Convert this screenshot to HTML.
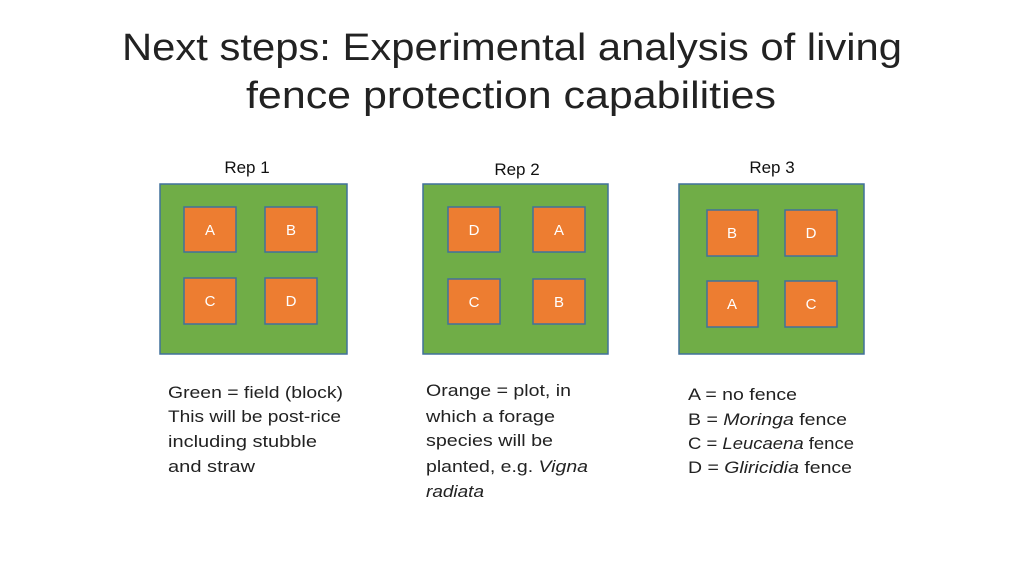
<!DOCTYPE html>
<html><head><style>
html,body{margin:0;padding:0;background:#fff;}
svg{display:block}
text{font-family:"Liberation Sans",sans-serif;}
</style></head><body>
<svg width="1024" height="576" viewBox="0 0 1024 576" xmlns="http://www.w3.org/2000/svg">
<text x="512" y="60" font-size="38" text-anchor="middle" fill="#222" textLength="780" lengthAdjust="spacingAndGlyphs">Next steps: Experimental analysis of living</text>
<text x="511" y="108" font-size="38" text-anchor="middle" fill="#222" textLength="530" lengthAdjust="spacingAndGlyphs">fence protection capabilities</text>

<g font-size="17" fill="#111" text-anchor="middle">
<text x="247" y="173">Rep 1</text>
<text x="517" y="175">Rep 2</text>
<text x="772" y="173">Rep 3</text>
</g>

<g fill="#70ad47" stroke="#41719c" stroke-width="1.5">
<rect x="160" y="184" width="187" height="170"/>
<rect x="423" y="184" width="185" height="170"/>
<rect x="679" y="184" width="185" height="170"/>
</g>
<g fill="#ed7d31" stroke="#41719c" stroke-width="1.5">
<rect x="184" y="207" width="52" height="45"/>
<rect x="265" y="207" width="52" height="45"/>
<rect x="184" y="278" width="52" height="46"/>
<rect x="265" y="278" width="52" height="46"/>
<rect x="448" y="207" width="52" height="45"/>
<rect x="533" y="207" width="52" height="45"/>
<rect x="448" y="279" width="52" height="45"/>
<rect x="533" y="279" width="52" height="45"/>
<rect x="707" y="210" width="51" height="46"/>
<rect x="785" y="210" width="52" height="46"/>
<rect x="707" y="281" width="51" height="46"/>
<rect x="785" y="281" width="52" height="46"/>
</g>
<g font-size="15" fill="#fff" text-anchor="middle">
<text x="210" y="235">A</text><text x="291" y="235">B</text>
<text x="210" y="306">C</text><text x="291" y="306">D</text>
<text x="474" y="235">D</text><text x="559" y="235">A</text>
<text x="474" y="307">C</text><text x="559" y="307">B</text>
<text x="732" y="238">B</text><text x="811" y="238">D</text>
<text x="732" y="309">A</text><text x="811" y="309">C</text>
</g>

<g font-size="17" fill="#222" lengthAdjust="spacingAndGlyphs">
<text x="168" y="398" textLength="175" lengthAdjust="spacingAndGlyphs">Green = field (block)</text>
<text x="168" y="422" textLength="173" lengthAdjust="spacingAndGlyphs">This will be post-rice</text>
<text x="168" y="447" textLength="149" lengthAdjust="spacingAndGlyphs">including stubble</text>
<text x="168" y="472" textLength="87" lengthAdjust="spacingAndGlyphs">and straw</text>
<text x="426" y="396" textLength="145" lengthAdjust="spacingAndGlyphs">Orange = plot, in</text>
<text x="426" y="422" textLength="129" lengthAdjust="spacingAndGlyphs">which a forage</text>
<text x="426" y="446" textLength="127" lengthAdjust="spacingAndGlyphs">species will be</text>
<text x="426" y="472" textLength="162" lengthAdjust="spacingAndGlyphs">planted, e.g. <tspan font-style="italic">Vigna</tspan></text>
<text x="426" y="497" font-style="italic" textLength="58" lengthAdjust="spacingAndGlyphs">radiata</text>
<text x="688" y="400" textLength="109" lengthAdjust="spacingAndGlyphs">A = no fence</text>
<text x="688" y="425" textLength="159" lengthAdjust="spacingAndGlyphs">B = <tspan font-style="italic">Moringa</tspan> fence</text>
<text x="688" y="449" textLength="166" lengthAdjust="spacingAndGlyphs">C = <tspan font-style="italic">Leucaena</tspan> fence</text>
<text x="688" y="473" textLength="164" lengthAdjust="spacingAndGlyphs">D = <tspan font-style="italic">Gliricidia</tspan> fence</text>
</g>
</svg>
</body></html>
